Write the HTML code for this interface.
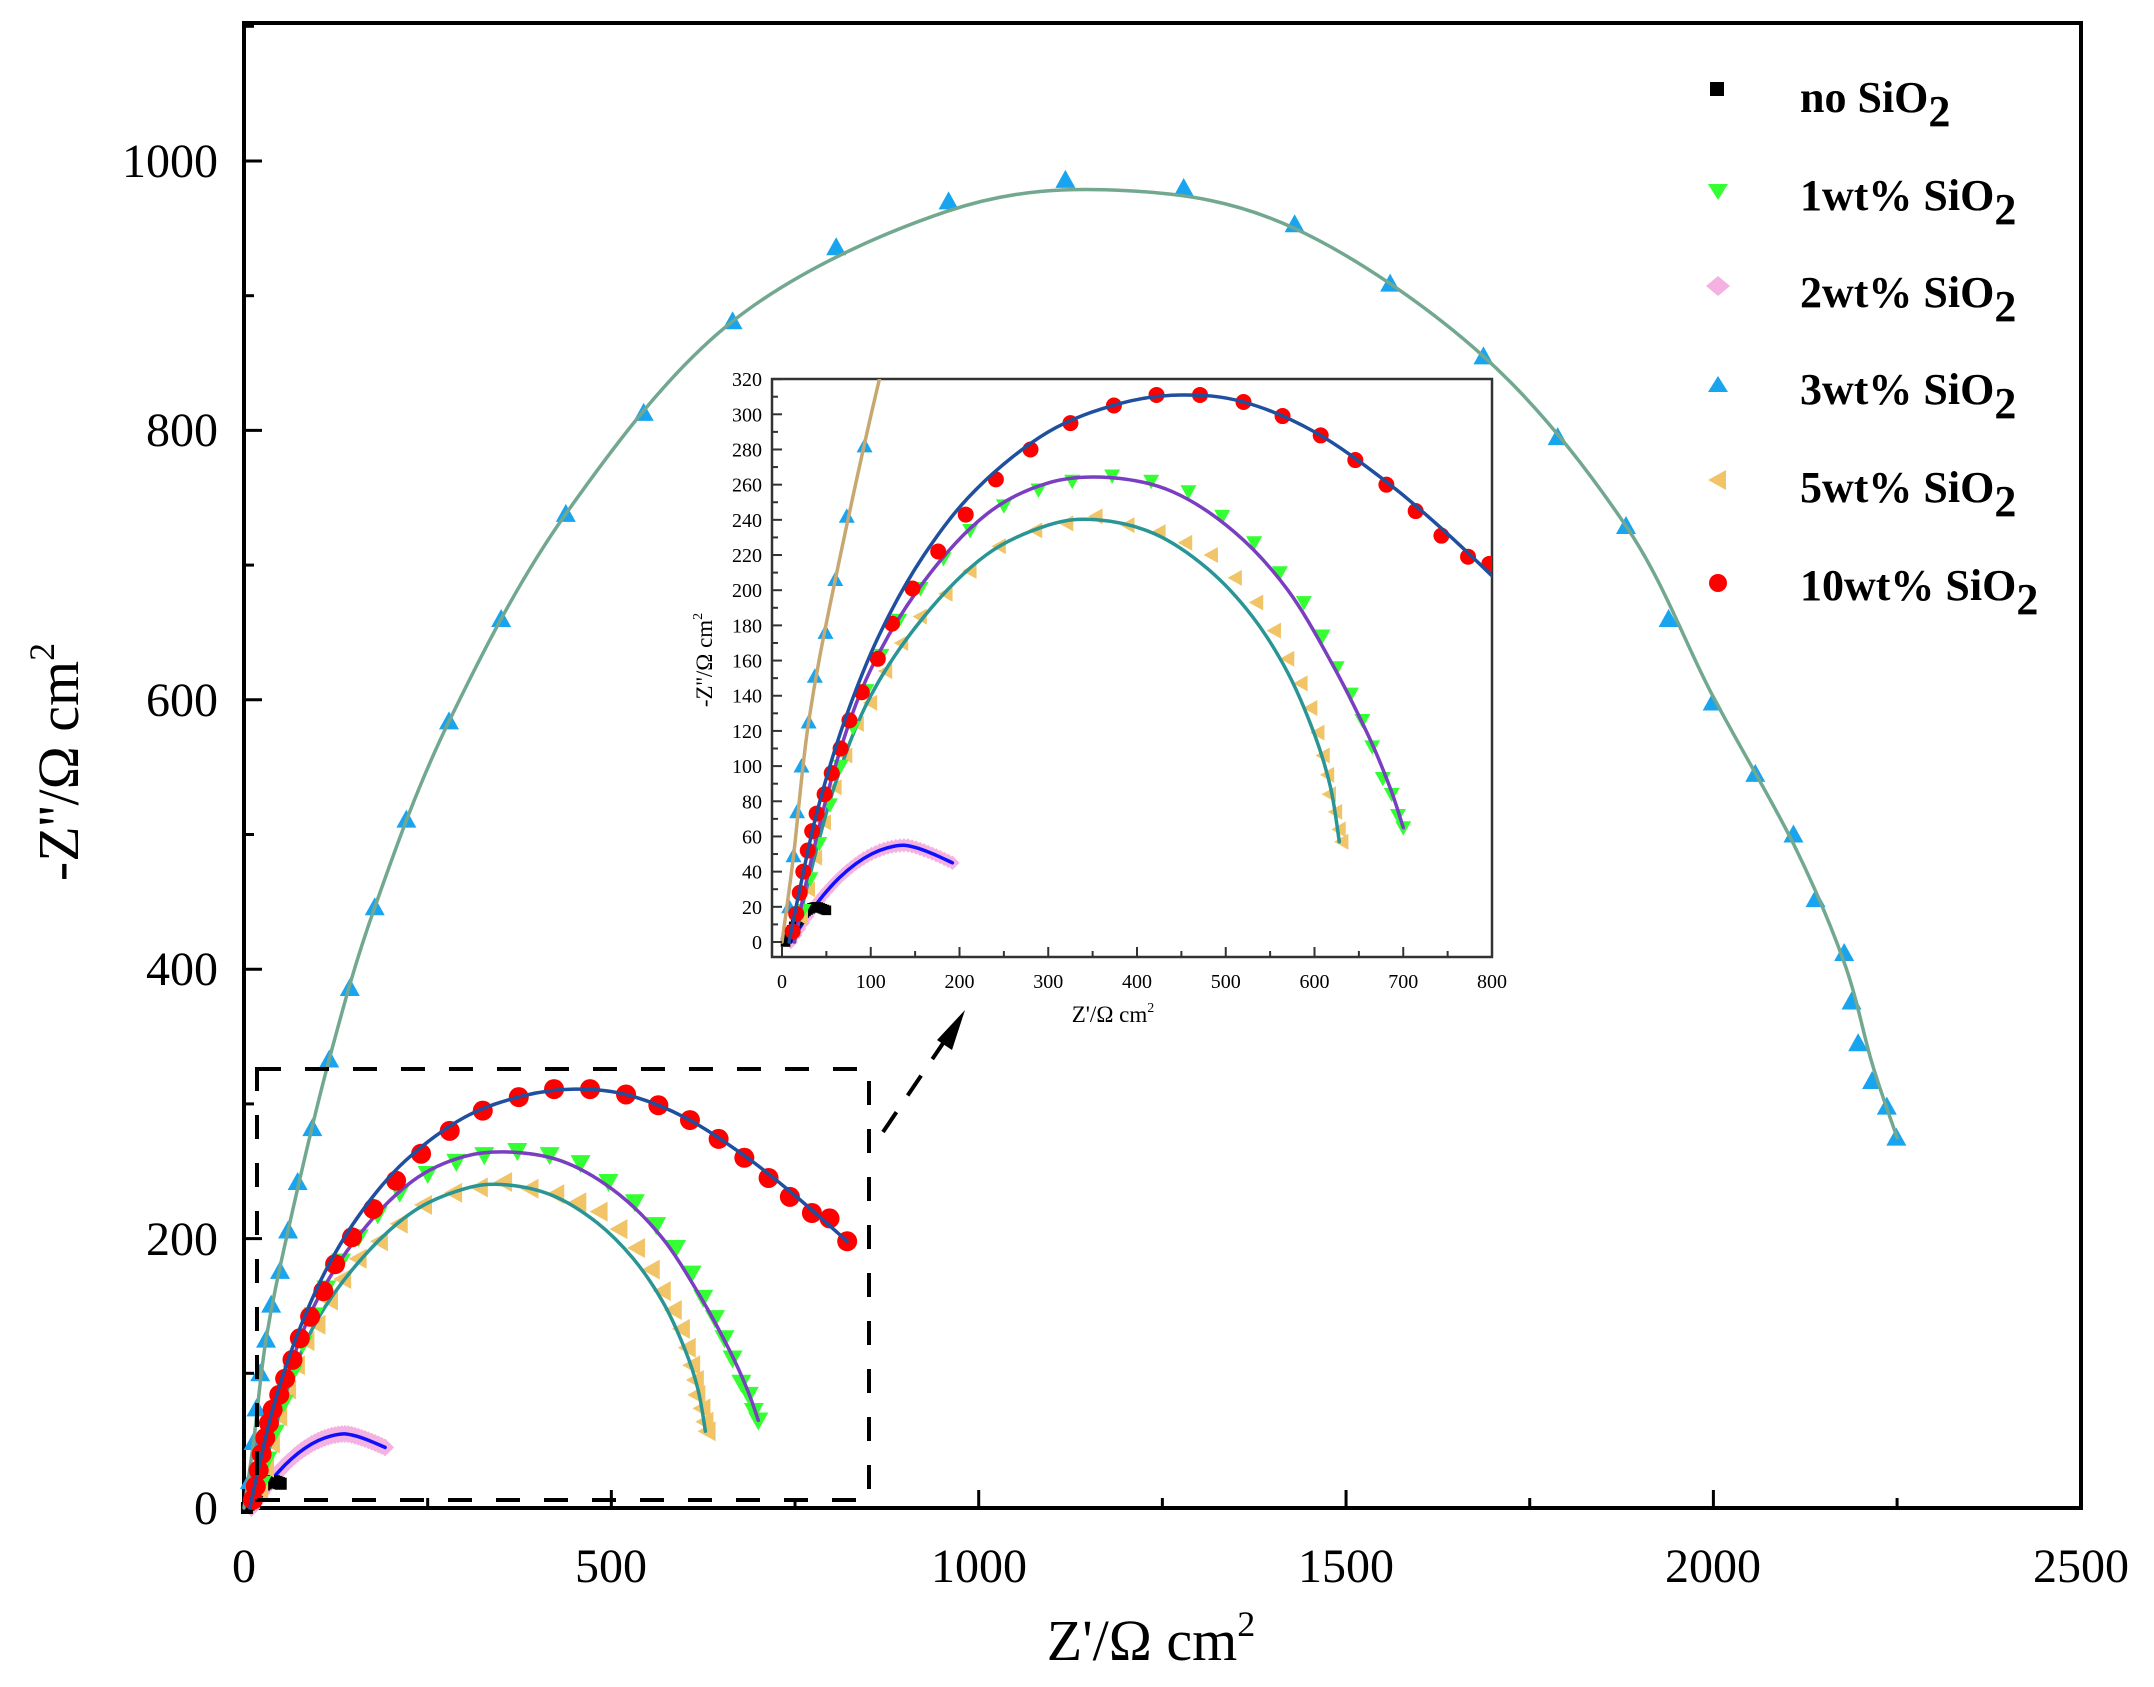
<!DOCTYPE html>
<html><head><meta charset="utf-8"><style>
html,body{margin:0;padding:0;background:#fff}
svg{display:block}
text{font-family:"Liberation Serif",serif;fill:#000}
</style></head><body>
<svg id="s" width="2154" height="1687" viewBox="0 0 2154 1687" xmlns="http://www.w3.org/2000/svg">
<rect width="2154" height="1687" fill="#fff"/>
<g id="g"></g>
<g font-size="48" text-anchor="middle">
<text x="244" y="1582">0</text><text x="611" y="1582">500</text><text x="979" y="1582">1000</text><text x="1346" y="1582">1500</text><text x="1713" y="1582">2000</text><text x="2081" y="1582">2500</text>
</g>
<g font-size="48" text-anchor="end">
<text x="218" y="1524">0</text><text x="218" y="1255">200</text><text x="218" y="985">400</text><text x="218" y="716">600</text><text x="218" y="446">800</text><text x="218" y="177">1000</text>
</g>
<text x="1151" y="1660" font-size="58" text-anchor="middle">Z'/Ω cm<tspan font-size="36" dy="-24">2</tspan></text>
<text transform="translate(78,762) rotate(-90)" font-size="58" text-anchor="middle">-Z''/Ω cm<tspan font-size="36" dy="-24">2</tspan></text>
<g font-size="44" font-weight="bold">
<text x="1800" y="112">no SiO<tspan dy="14">2</tspan></text>
<text x="1800" y="210">1wt% SiO<tspan dy="14">2</tspan></text>
<text x="1800" y="307">2wt% SiO<tspan dy="14">2</tspan></text>
<text x="1800" y="404">3wt% SiO<tspan dy="14">2</tspan></text>
<text x="1800" y="502">5wt% SiO<tspan dy="14">2</tspan></text>
<text x="1800" y="600">10wt% SiO<tspan dy="14">2</tspan></text>
</g>
<rect x="1710" y="82" width="14" height="14" fill="#000"/>
<polygon points="1708,184 1728,184 1718,200" fill="#33ff33"/>
<polygon points="1718,276 1730,286 1718,296 1706,286" fill="#f4b2e2"/>
<polygon points="1708,392 1728,392 1718,376" fill="#18a4ee"/>
<polygon points="1726,470 1726,490 1708,480" fill="#f2c468"/>
<circle cx="1718" cy="583" r="9" fill="#ff0000"/>
</svg>
<script>
const NS="http://www.w3.org/2000/svg";
const g=document.getElementById('g');
function el(t,a,p){const e=document.createElementNS(NS,t);for(const k in a)e.setAttribute(k,a[k]);(p||g).appendChild(e);return e;}
const MX=z=>244+0.7347*z, MY=z=>1508-1.347*z;
const IX=z=>782+0.8875*z, IY=z=>942-1.759*z;

const d3=[[8,20],[13,49],[17,74],[22,100],[30,125],[37,151],[49,176],[60,206],[73,242],[93,282],[116,333],[144,386],[178,446],[221,511],[279,584],[350,660],[438,738],[544,813],[665,881],[806,936],[959,970],[1118,986],[1279,980],[1430,953],[1560,909],[1687,855],[1788,795],[1881,729],[1939,660],[1999,598],[2057,545],[2109,500],[2139,452],[2178,412],[2188,376],[2197,345],[2216,317],[2236,298],[2249,275]];
const f3=[[0,0],[13,49],[30,125],[60,206],[116,333],[178,446],[279,584],[438,738],[665,881],[959,963],[1200,978],[1430,950],[1687,855],[1881,729],[1999,603],[2109,493],[2178,405],[2216,330],[2250,275]];
const d10=[[821,198],[797,215],[773,219],[743,231],[714,245],[681,260],[646,274],[607,288],[564,299],[520,307],[471,311],[422,311],[374,305],[325,295],[280,280],[241,263],[207,243],[176,222],[147,201],[124,181],[108,161],[90,142],[76,126],[66,110],[56,96],[48,84],[39,73],[34,63],[29,52],[24,40],[20,28],[16,16],[12,6]];
const f10=[[8,0],[20,30],[40,75],[70,125],[110,175],[160,220],[220,258],[300,290],[380,306],[450,311],[520,307],[600,290],[680,262],[750,232],[821,198]];
const d1=[[700,65],[694,72],[687,84],[677,93],[665,111],[654,126],[641,141],[625,156],[609,174],[588,193],[561,210],[532,227],[496,242],[458,256],[416,262],[372,265],[327,262],[289,257],[250,248],[212,234],[182,218],[156,201],[132,183],[112,163],[95,143],[80,122],[66,100],[54,78],[42,56],[32,36],[24,18]];
const f1=[[14,0],[30,40],[60,100],[100,155],[160,205],[230,243],[300,261],[370,264],[440,256],[510,233],[570,200],[620,158],[660,118],[685,88],[700,65]];
const d5=[[631,57],[628,64],[624,74],[617,84],[615,95],[610,106],[604,119],[596,133],[585,147],[570,161],[555,177],[535,193],[511,207],[484,220],[455,227],[425,233],[390,237],[354,242],[321,238],[286,234],[245,225],[212,211],[185,198],[156,185],[135,170],[117,154],[100,136],[85,124],[72,106],[60,88],[48,68],[38,48],[30,30],[22,14]];
const f5=[[14,0],[30,35],[60,90],[100,140],[160,185],[230,220],[300,237],[355,240],[420,232],[480,212],[530,185],[570,153],[600,118],[618,88],[628,57]];
const d2=[];for(let t=0;t<=1.0001;t+=0.025){const x=10+182*t;const y=x<=140?55*(1-Math.pow((140-x)/130,2)):55-10*((x-140)/52)**1.3;d2.push([x,Math.max(y,0)]);}
const d0=[];for(let t=0;t<=1.0001;t+=0.05){const x=4+46*t;const y=x<40?20*(1-((40-x)/36)**2):20-2*(x-40)/10;d0.push([x,y]);}

function spline(pts,MXf,MYf,col,w,clip){
 const P=pts.map(p=>[MXf(p[0]),MYf(p[1])]);
 let d='M'+P[0][0].toFixed(1)+','+P[0][1].toFixed(1);
 for(let i=0;i<P.length-1;i++){const p0=P[Math.max(i-1,0)],p1=P[i],p2=P[i+1],p3=P[Math.min(i+2,P.length-1)];
  const c1=[p1[0]+(p2[0]-p0[0])/6,p1[1]+(p2[1]-p0[1])/6],c2=[p2[0]-(p3[0]-p1[0])/6,p2[1]-(p3[1]-p1[1])/6];
  d+='C'+c1.map(v=>v.toFixed(1))+' '+c2.map(v=>v.toFixed(1))+' '+p2.map(v=>v.toFixed(1));}
 const a={d:d,fill:'none',stroke:col,'stroke-width':w,'stroke-linecap':'round'};if(clip)a['clip-path']=clip;return el('path',a);}
function mk(type,x,y,r,col,clip){let e;
 if(type=='c')e=el('circle',{cx:x,cy:y,r:r,fill:col});
 else if(type=='s')e=el('rect',{x:x-r,y:y-r,width:2*r,height:2*r,fill:col});
 else{let p;
  if(type=='u')p=[[x-r,y+r*0.8],[x+r,y+r*0.8],[x,y-r]];
  if(type=='d')p=[[x-r,y-r*0.8],[x+r,y-r*0.8],[x,y+r]];
  if(type=='l')p=[[x+r*0.8,y-r],[x+r*0.8,y+r],[x-r,y]];
  if(type=='m')p=[[x,y-r],[x+r,y],[x,y+r],[x-r,y]];
  e=el('polygon',{points:p.map(q=>q.join(',')).join(' '),fill:col});}
 if(clip)e.setAttribute('clip-path',clip);return e;}
const defs=el('defs',{});const cp=el('clipPath',{id:'ic'},defs);el('rect',{x:772,y:379,width:720,height:578},cp);

function series(MXf,MYf,r,clip,lineW,tan){
 d2.forEach(p=>mk('m',MXf(p[0]),MYf(p[1]),r*0.9,'#f4b2e2',clip));
 spline(d2.filter((p,i)=>i%4==0||i==d2.length-1),MXf,MYf,'#1010ff',lineW,clip);
 d0.forEach(p=>mk('s',MXf(p[0]),MYf(p[1]),r*0.6,'#000',clip));
 d3.forEach(p=>mk('u',MXf(p[0]),MYf(p[1]),r,'#18a4ee',clip));
 spline(f3,MXf,MYf,tan?'#c8a870':'#72a890',lineW,clip);
 d5.forEach(p=>mk('l',MXf(p[0]),MYf(p[1]),r,'#f2c468',clip));
 spline(f5,MXf,MYf,'#2a9595',lineW,clip);
 d1.forEach(p=>mk('d',MXf(p[0]),MYf(p[1]),r,'#33ff33',clip));
 spline(f1,MXf,MYf,'#7a3ec0',lineW,clip);
 d10.forEach(p=>mk('c',MXf(p[0]),MYf(p[1]),r,'#ff0000',clip));
 spline(f10,MXf,MYf,'#1f4f9f',lineW,clip);
}
el('rect',{x:244,y:23,width:1837,height:1485,fill:'none',stroke:'#000','stroke-width':4});
for(let v=0;v<=2500;v+=250){const x=MX(v);el('line',{x1:x,y1:1508,x2:x,y2:1508-(v%500==0?18:10),stroke:'#000','stroke-width':3});}
for(let v=0;v<=1100;v+=100){const y=MY(v);el('line',{x1:244,y1:y,x2:244+(v%200==0?18:10),y2:y,stroke:'#000','stroke-width':3});}
series(MX,MY,10,null,3.5,false);
el('rect',{x:257,y:1069,width:612,height:431,fill:'none',stroke:'#000','stroke-width':4,'stroke-dasharray':'24,24'});
el('line',{x1:883,y1:1132,x2:952,y2:1030,stroke:'#000','stroke-width':4,'stroke-dasharray':'24,20'});
el('polygon',{points:'965,1010 952,1050 937,1040',fill:'#000'});
el('rect',{x:772,y:379,width:720,height:578,fill:'#fff',stroke:'#333','stroke-width':2.5});
series(IX,IY,8,'url(#ic)',3.5,true);
for(let v=0;v<=800;v+=50){const x=IX(v);el('line',{x1:x,y1:957,x2:x,y2:957-(v%100==0?10:6),stroke:'#333','stroke-width':2});
 if(v%100==0){const t=el('text',{x:x,y:988,'font-size':20,'text-anchor':'middle'});t.textContent=v;}}
for(let v=0;v<=320;v+=10){const y=IY(v);el('line',{x1:772,y1:y,x2:772+(v%20==0?10:6),y2:y,stroke:'#333','stroke-width':2});
 if(v%20==0){const t=el('text',{x:762,y:y+7,'font-size':20,'text-anchor':'end'});t.textContent=v;}}
const tx=el('text',{x:1113,y:1022,'font-size':23,'text-anchor':'middle'});tx.innerHTML="Z'/Ω cm<tspan font-size='14' dy='-10'>2</tspan>";
const ty=el('text',{transform:'translate(712,660) rotate(-90)','font-size':23,'text-anchor':'middle'});ty.innerHTML="-Z''/Ω cm<tspan font-size='14' dy='-10'>2</tspan>";
</script>
</body></html>
